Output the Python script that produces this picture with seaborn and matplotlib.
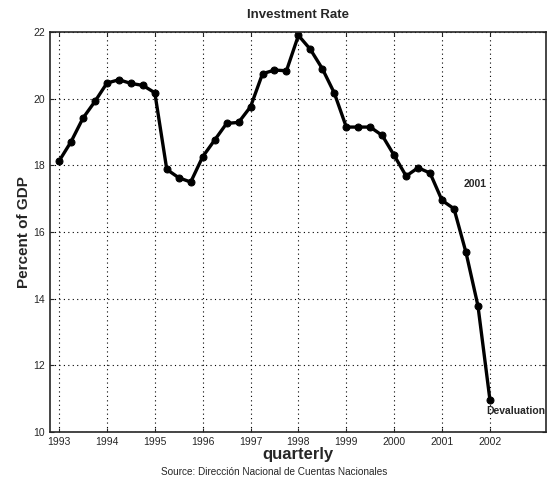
import numpy as np
import pandas as pd
import matplotlib
matplotlib.use('Agg')
import matplotlib.pyplot as plt
import seaborn as sns

# data: quarterly investment rate, 1993Q1 - 2002Q1
quarters = [1993 + 0.25 * i for i in range(37)]
rate = [18.13, 18.71, 19.42, 19.92,
        20.47, 20.57, 20.46, 20.40,
        20.18, 17.88, 17.63, 17.50,
        18.26, 18.76, 19.26, 19.29,
        19.76, 20.75, 20.86, 20.84,
        21.90, 21.48, 20.90, 20.17,
        19.15, 19.15, 19.15, 18.90,
        18.30, 17.68, 17.93, 17.77,
        16.95, 16.70, 15.39, 13.79,
        10.97]
year_ticks = list(range(1993, 2003))
y_ticks = [10, 12, 14, 16, 18, 20, 22]

df = pd.DataFrame({'quarter': quarters, 'rate': rate})

sns.set_style('ticks')
plt.rcParams['font.family'] = ['Liberation Sans', 'DejaVu Sans']

fig = plt.figure(figsize=(5.48, 4.86), dpi=100)
ax = fig.add_axes([0.0912, 0.111, 0.905, 0.823])

sns.lineplot(data=df, x='quarter', y='rate', color='black', linewidth=2.4,
             marker='o', markersize=5, markeredgecolor='black', ax=ax)

ax.set_xlim(1992.81, 2003.17)
ax.set_ylim(10, 22)
ax.set_xticks(year_ticks)
ax.set_xticklabels([str(y) for y in year_ticks])
ax.set_yticks(y_ticks)
ax.grid(True, linestyle=(0, (1, 3)), color='black', linewidth=0.8)
ax.tick_params(direction='in', top=True, right=True, labelsize=7.5, length=3)
for s in ax.spines.values():
    s.set_linewidth(1.2)

ax.set_title('Investment Rate', fontweight='bold', fontsize=9.5, pad=10)
ax.set_ylabel('Percent of GDP', fontweight='bold', fontsize=11, labelpad=2)
ax.set_xlabel('quarterly', fontweight='bold', fontsize=12, labelpad=0)

ax.text(2001.45, 17.45, '2001', fontsize=7.5, fontweight='bold', va='center')
ax.text(2001.93, 10.63, 'Devaluation', fontsize=7.5, fontweight='bold', va='center')

fig.text(0.5, 0.028, 'Source: Dirección Nacional de Cuentas Nacionales',
         ha='center', va='center', fontsize=7.2)

fig.savefig('out.png', dpi=100)
